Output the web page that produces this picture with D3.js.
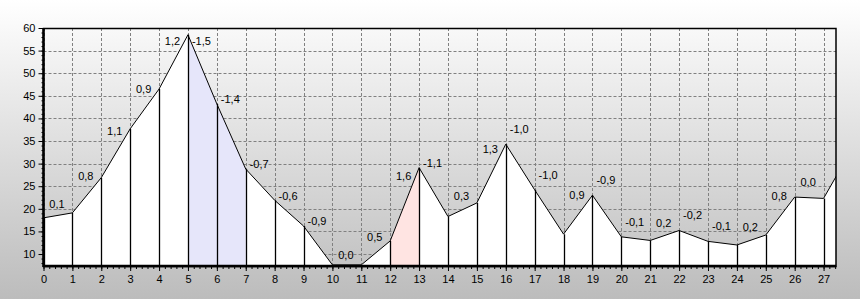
<!DOCTYPE html>
<html>
<head>
<meta charset="utf-8">
<script src="https://cdn.jsdelivr.net/npm/d3@7"></script>
<style>
  body { margin:0; padding:0; overflow:hidden; }
  svg { display:block; font-family:"Liberation Sans", Arial, sans-serif; }
  .tick text { font-size:11px; fill:#000; }
  .label { font-size:11px; fill:#000; }
</style>
</head>
<body>
<svg></svg>
<script>
// x positions of the readings
var steps = [0,1,2,3,4,5,6,7,8,9,10,11,12,13,14,15,16,17,18,19,20,21,22,23,24,25,26,27,28]
// reading at each step (the last one lies past the right edge)
var levels = [18.0,19.1,26.9,37.7,46.5,58.5,43.2,28.8,21.9,16.2,7.6,7.6,12.9,29.1,18.3,
              21.3,34.3,24.2,14.4,23.0,13.8,13.0,15.2,12.8,12.0,14.2,22.6,22.3,33.5]
// change per segment, printed between two readings
var slopeLabels = ["0,1","0,8","1,1","0,9","1,2","-1,5","-1,4","-0,7","-0,6","-0,9","0,0","0,5","1,6","-1,1",
                   "0,3","1,3","-1,0","-1,0","0,9","-0,9","-0,1","0,2","-0,2","-0,1","0,2","0,8","0,0"]
var yTicks = [10,15,20,25,30,35,40,45,50,55,60]
var xTicks = [0,1,2,3,4,5,6,7,8,9,10,11,12,13,14,15,16,17,18,19,20,21,22,23,24,25,26,27]
// highlighted spans
var blueSpan = [5,7]
var pinkSpan = [12,13]

var screen = {width:860,height:299}
var plot = {left:43.5,top:28,right:836,bottom:266}

var svg = d3.select("svg")
    .attr("width",screen.width)
    .attr("height",screen.height)

var xScale = d3.scaleLinear()
    .domain([0,27.43])
    .range([plot.left,plot.right])

var yScale = d3.scaleLinear()
    .domain([7.35,60])
    .range([plot.bottom,plot.top])

var points = steps.map(function(s,i){ return {x:s,v:levels[i]} })

var drawBackground = function()
{
    var grad = svg.append("defs").append("linearGradient")
        .attr("id","bg")
        .attr("x1",0).attr("y1",0).attr("x2",0).attr("y2",1)
    grad.append("stop").attr("offset","0%").attr("stop-color","#ffffff")
    grad.append("stop").attr("offset","100%").attr("stop-color","#bcbcbc")

    svg.select("defs").append("clipPath")
        .attr("id","plotclip")
        .append("rect")
        .attr("x",plot.left)
        .attr("y",plot.top)
        .attr("width",plot.right-plot.left)
        .attr("height",plot.bottom-plot.top)

    svg.append("rect")
        .attr("width",screen.width)
        .attr("height",screen.height)
        .attr("fill","url(#bg)")
}

var drawGrid = function()
{
    var grid = svg.append("g")
        .attr("stroke","#808080")
        .attr("stroke-dasharray","3,2")
        .attr("stroke-width",1)

    grid.selectAll("line.h")
        .data(yTicks)
        .enter()
        .append("line")
        .attr("x1",plot.left)
        .attr("x2",plot.right)
        .attr("y1",function(d){ return Math.round(yScale(d))+0.5 })
        .attr("y2",function(d){ return Math.round(yScale(d))+0.5 })

    grid.selectAll("line.v")
        .data(xTicks)
        .enter()
        .append("line")
        .attr("y1",plot.top)
        .attr("y2",plot.bottom)
        .attr("x1",function(d){ return Math.round(xScale(d))+0.5 })
        .attr("x2",function(d){ return Math.round(xScale(d))+0.5 })
}

var drawSeries = function()
{
    var g = svg.append("g").attr("clip-path","url(#plotclip)")

    var area = d3.area()
        .x(function(d){ return xScale(d.x) })
        .y0(plot.bottom)
        .y1(function(d){ return yScale(d.v) })

    g.append("path")
        .datum(points)
        .attr("d",area)
        .attr("fill","#ffffff")

    g.append("path")
        .datum(points.filter(function(d){ return d.x>=blueSpan[0] && d.x<=blueSpan[1] }))
        .attr("d",area)
        .attr("fill","#e6e6fa")

    g.append("path")
        .datum(points.filter(function(d){ return d.x>=pinkSpan[0] && d.x<=pinkSpan[1] }))
        .attr("d",area)
        .attr("fill","#ffe4e2")

    g.selectAll("line.drop")
        .data(points)
        .enter()
        .append("line")
        .attr("x1",function(d){ return Math.round(xScale(d.x))+0.5 })
        .attr("x2",function(d){ return Math.round(xScale(d.x))+0.5 })
        .attr("y1",function(d){ return yScale(d.v) })
        .attr("y2",plot.bottom)
        .attr("stroke","#000")
        .attr("stroke-width",1.3)

    var line = d3.line()
        .x(function(d){ return xScale(d.x) })
        .y(function(d){ return yScale(d.v) })

    g.append("path")
        .datum(points)
        .attr("d",line)
        .attr("fill","none")
        .attr("stroke","#000")
        .attr("stroke-width",1)
}

var drawLabels = function()
{
    svg.append("g")
        .selectAll("text")
        .data(slopeLabels)
        .enter()
        .append("text")
        .classed("label",true)
        .attr("text-anchor","middle")
        .attr("dy","0.35em")
        .attr("x",function(d,i){ return (xScale(steps[i])+xScale(steps[i+1]))/2 - 1 })
        .attr("y",function(d,i){
            var y0 = yScale(levels[i]), y1 = yScale(levels[i+1])
            var y
            if (levels[i+1]>=levels[i]) {
                // rising: sit above the middle of the segment
                y = (y0+y1)/2 - (10+0.25*Math.abs(y1-y0))
            } else {
                // falling: sit beside the top of the segment
                y = y0 - (steps[i]<15 ? 4.5 : 15)
            }
            return Math.max(y, plot.top+13)
        })
        .text(function(d){ return d })
}

var drawAxes = function()
{
    var yMinor = d3.axisLeft(yScale).tickValues(d3.range(8,61,1)).tickSize(2).tickFormat("")
    var xMinor = d3.axisBottom(xScale).tickValues(d3.range(0,27.5,0.2)).tickSize(3).tickFormat("")
    var yAxis = d3.axisLeft(yScale).tickValues(yTicks).tickSize(5).tickPadding(3)
    var xAxis = d3.axisBottom(xScale).tickValues(xTicks).tickSize(5).tickPadding(4)

    svg.append("g").attr("transform","translate("+plot.left+",0)").call(yMinor)
    svg.append("g").attr("transform","translate(0,"+plot.bottom+")").call(xMinor)
    svg.append("g").attr("transform","translate("+plot.left+",0)").call(yAxis)
    svg.append("g").attr("transform","translate(0,"+plot.bottom+")").call(xAxis)

    svg.selectAll(".domain").remove()
    svg.selectAll(".tick line").attr("stroke","#000")
    svg.selectAll(".tick text").attr("font-family",null)

    // frame: thin top/right, heavy left/bottom
    svg.append("rect")
        .attr("x",plot.left)
        .attr("y",plot.top+0.5)
        .attr("width",plot.right-plot.left)
        .attr("height",plot.bottom-plot.top)
        .attr("fill","none")
        .attr("stroke","#000")
        .attr("stroke-width",1.5)

    svg.append("line")
        .attr("x1",plot.left).attr("x2",plot.left)
        .attr("y1",plot.top).attr("y2",plot.bottom+1)
        .attr("stroke","#000").attr("stroke-width",2.5)

    svg.append("line")
        .attr("x1",plot.left).attr("x2",plot.right)
        .attr("y1",plot.bottom).attr("y2",plot.bottom)
        .attr("stroke","#000").attr("stroke-width",2.5)
}

drawBackground()
drawGrid()
drawSeries()
drawLabels()
drawAxes()
</script>
</body>
</html>
